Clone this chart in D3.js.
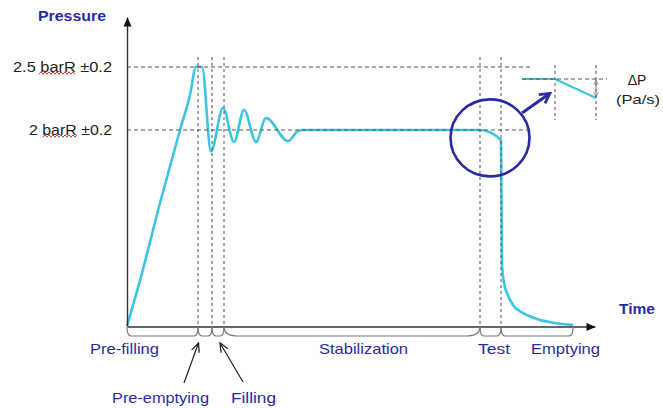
<!DOCTYPE html>
<html><head><meta charset="utf-8">
<script src="https://cdn.jsdelivr.net/npm/d3@7"></script>
<style>
body{margin:0;background:#fff}
svg{display:block}
text{font-family:"Liberation Sans",Arial,sans-serif}
</style></head>
<body><svg id="c" width="663" height="408"></svg>
<script>
// ---------- data ----------
const phaseNames  = ["Pre-filling","Pre-emptying","Filling","Stabilization","Test","Emptying"];
const phaseBounds = [0, 17.75, 21.25, 24.25, 88.25, 93.5, 111.5];
const timeValues     = [0, 3.75, 8.25, 13.25, 15.75, 17.25, 18.75, 21, 24, 26.75, 29.25, 32.25, 34.75, 40.25, 42.75, 44, 88.25, 93.5, 93.75, 94.25, 95, 96.5, 99, 102.5, 107, 111.5];
const pressureValues = [0, 0.54, 1.255, 2.0, 2.278, 2.5, 2.5, 1.78, 2.175, 1.878, 2.159, 1.878, 2.095, 1.888, 1.99, 2.0, 2.0, 1.898, 0.622, 0.439, 0.337, 0.214, 0.133, 0.071, 0.031, 0.01];
const levelValues = [2.5, 2.0];
const levelLabels = ["2.5 barR \u00B10.2", "2 barR \u00B10.2"];
const insetTime     = [80, 88.25, 93.5];
const insetPressure = [2.0, 2.0, 1.898];
const zoomCenter = {t: 90.75, p: 1.92};

// ---------- setup ----------
const svg = d3.select("#c");
const blue = "#2a2aa2", cyan = "#3cc4e4", guide = "#555";
const x = d3.scaleLinear().domain([0, 117]).range([127, 595]);
const y = d3.scaleLinear().domain([0, 2, 2.5, 2.9]).range([326, 130, 67, 17]);
const ix = d3.scaleLinear().domain(insetTime).range([522, 555, 596]);
const iy = d3.scaleLinear().domain([insetPressure[2], insetPressure[0]]).range([98, 79]);

const defs = svg.append("defs");
defs.append("marker").attr("id","ax").attr("viewBox","0 0 10 10").attr("refX",10).attr("refY",5)
  .attr("markerWidth",10).attr("markerHeight",9).attr("markerUnits","userSpaceOnUse").attr("orient","auto")
  .append("path").attr("d","M0,0.5L10,5L0,9.5Z").attr("fill","#111");
defs.append("marker").attr("id","vee").attr("viewBox","0 0 10 10").attr("refX",9).attr("refY",5)
  .attr("markerWidth",10).attr("markerHeight",10).attr("markerUnits","userSpaceOnUse").attr("orient","auto")
  .append("path").attr("d","M0,1L9,5L0,9").attr("fill","none").attr("stroke","#222").attr("stroke-width",1.3);
defs.append("marker").attr("id","bluehead").attr("viewBox","0 0 12 12").attr("refX",9).attr("refY",6)
  .attr("markerWidth",13).attr("markerHeight",13).attr("markerUnits","userSpaceOnUse").attr("orient","auto")
  .append("path").attr("d","M1,1L10,6L1,11").attr("fill","none").attr("stroke",blue).attr("stroke-width",2.6).attr("stroke-linejoin","miter");
defs.append("marker").attr("id","small").attr("viewBox","0 0 8 8").attr("refX",7).attr("refY",4)
  .attr("markerWidth",6).attr("markerHeight",6).attr("markerUnits","userSpaceOnUse").attr("orient","auto-start-reverse")
  .append("path").attr("d","M0,0.5L7,4L0,7.5").attr("fill","none").attr("stroke","#777").attr("stroke-width",1);

// ---------- pressure curve ----------
const pts = timeValues.map((t,i)=>[t, pressureValues[i]]);
const line = d3.line().x(d=>x(d[0])).y(d=>y(d[1])).curve(d3.curveMonotoneX);
svg.append("path").attr("d", line(pts)).attr("fill","none").attr("stroke",cyan)
  .attr("stroke-width",2.6).attr("stroke-linejoin","round");

// ---------- axes ----------
const gx = svg.append("g").attr("transform",`translate(0,${y(0)+0.5})`)
  .call(d3.axisBottom(x).tickValues([]).tickSizeOuter(0));
gx.select(".domain").attr("stroke","#333").attr("stroke-width",1.4).attr("marker-end","url(#ax)");
const gy = svg.append("g").attr("transform",`translate(${x(0)},0)`)
  .call(d3.axisLeft(y).tickValues([]).tickSizeOuter(0));
gy.select(".domain").attr("stroke","#333").attr("stroke-width",1.4).attr("marker-end","url(#ax)");

// ---------- guides ----------
svg.selectAll("line.level").data(levelValues).join("line").attr("class","level")
  .attr("x1", x(0)).attr("x2", x(101)).attr("y1", d=>y(d)).attr("y2", d=>y(d))
  .attr("stroke", guide).attr("stroke-width",1).attr("stroke-dasharray","4,3");
svg.selectAll("line.vguide").data(phaseBounds.slice(1,6)).join("line").attr("class","vguide")
  .attr("x1", d=>x(d)).attr("x2", d=>x(d)).attr("y1", y(2.58)).attr("y2", y(0))
  .attr("stroke", guide).attr("stroke-width",1).attr("stroke-dasharray","3,3");

// level labels
svg.selectAll("text.lvl").data(levelLabels).join("text").attr("class","lvl")
  .attr("x", 112).attr("y", (d,i)=>y(levelValues[i])+5).attr("text-anchor","end")
  .attr("font-size",14).attr("fill","#222")
  .attr("textLength",(d,i)=>i===0?99:83).attr("lengthAdjust","spacingAndGlyphs").text(d=>d);
// spell-check squiggles under "bar"
[[39,76,y(2.5)+6],[43,77,y(2)+6]].forEach(([a,b,yy])=>{
  const p = d3.range(a,b+0.1,2).map((xx,i)=>[xx, yy + (i%2? -1.2:1.2)]);
  svg.append("path").attr("d", d3.line()(p)).attr("fill","none").attr("stroke","#d43a3a").attr("stroke-width",1);
});

// ---------- zoom circle & inset ----------
svg.append("ellipse").attr("cx", x(zoomCenter.t)).attr("cy", y(zoomCenter.p)).attr("rx",39.5).attr("ry",38.5)
  .attr("fill","none").attr("stroke",blue).attr("stroke-width",2.6);
svg.append("line").attr("x1",522).attr("y1",113).attr("x2",549).attr("y2",94)
  .attr("stroke",blue).attr("stroke-width",3).attr("marker-end","url(#bluehead)");

const ipts = insetTime.map((t,i)=>[t, insetPressure[i]]);
svg.append("path").attr("d", d3.line().x(d=>ix(d[0])).y(d=>iy(d[1]))(ipts))
  .attr("fill","none").attr("stroke",cyan).attr("stroke-width",2.2);
svg.append("line").attr("x1", ix(80)).attr("x2", 607).attr("y1", iy(2)).attr("y2", iy(2))
  .attr("stroke", guide).attr("stroke-width",1).attr("stroke-dasharray","4,3");
svg.selectAll("line.iguide").data(insetTime.slice(1)).join("line").attr("class","iguide")
  .attr("x1", d=>ix(d)).attr("x2", d=>ix(d)).attr("y1", 65).attr("y2", 120)
  .attr("stroke", guide).attr("stroke-width",1).attr("stroke-dasharray","3,3");
svg.append("line").attr("x1", ix(93.5)).attr("x2", ix(93.5)).attr("y1", iy(2)+1).attr("y2", iy(1.898)-1)
  .attr("stroke","#777").attr("stroke-width",1).attr("marker-start","url(#small)").attr("marker-end","url(#small)");
svg.append("text").attr("x",637).attr("y",85).attr("text-anchor","middle").attr("font-size",14).attr("fill","#222").text("\u0394P");
svg.append("text").attr("x",638).attr("y",104).attr("text-anchor","middle").attr("font-size",13).attr("fill","#222")
  .attr("textLength",44).attr("lengthAdjust","spacingAndGlyphs").text("(Pa/s)");

// ---------- phase braces ----------
const by0 = y(0)+1, by1 = y(0)+10;
phaseNames.forEach((n,i)=>{
  const a = x(phaseBounds[i]), b = x(phaseBounds[i+1]);
  const r = n==="Stabilization" ? 14 : 4;
  svg.append("path").attr("d",`M${a},${by0} Q${a},${by1} ${a+r},${by1} H${b-r} Q${b},${by1} ${b},${by0}`)
    .attr("fill","none").attr("stroke","#777").attr("stroke-width",1.2);
});

// phase labels
const lab = [
  {n:"Pre-filling",  x:90,  y:354, w:69},
  {n:"Pre-emptying", x:112, y:403, w:97},
  {n:"Filling",      x:231, y:403, w:45},
  {n:"Stabilization",x:319, y:354, w:89},
  {n:"Test",         x:478, y:354, w:32},
  {n:"Emptying",     x:531, y:354, w:69}
];
svg.selectAll("text.ph").data(lab).join("text").attr("class","ph")
  .attr("x",d=>d.x).attr("y",d=>d.y).attr("font-size",15).attr("fill",blue)
  .attr("textLength",d=>d.w).attr("lengthAdjust","spacingAndGlyphs").text(d=>d.n);
svg.append("line").attr("x1",184).attr("y1",383).attr("x2",x(phaseBounds[1])+0.5).attr("y2",343)
  .attr("stroke","#222").attr("stroke-width",1.2).attr("marker-end","url(#vee)");
svg.append("line").attr("x1",243).attr("y1",382).attr("x2",x(phaseBounds[2])+8).attr("y2",343)
  .attr("stroke","#222").attr("stroke-width",1.2).attr("marker-end","url(#vee)");

// axis titles
svg.append("text").attr("x",38).attr("y",21).attr("font-size",14).attr("font-weight","bold").attr("fill",blue)
  .attr("textLength",68).attr("lengthAdjust","spacingAndGlyphs").text("Pressure");
svg.append("text").attr("x",619).attr("y",314).attr("font-size",14).attr("font-weight","bold").attr("fill",blue)
  .attr("textLength",36).attr("lengthAdjust","spacingAndGlyphs").text("Time");
</script></body></html>
